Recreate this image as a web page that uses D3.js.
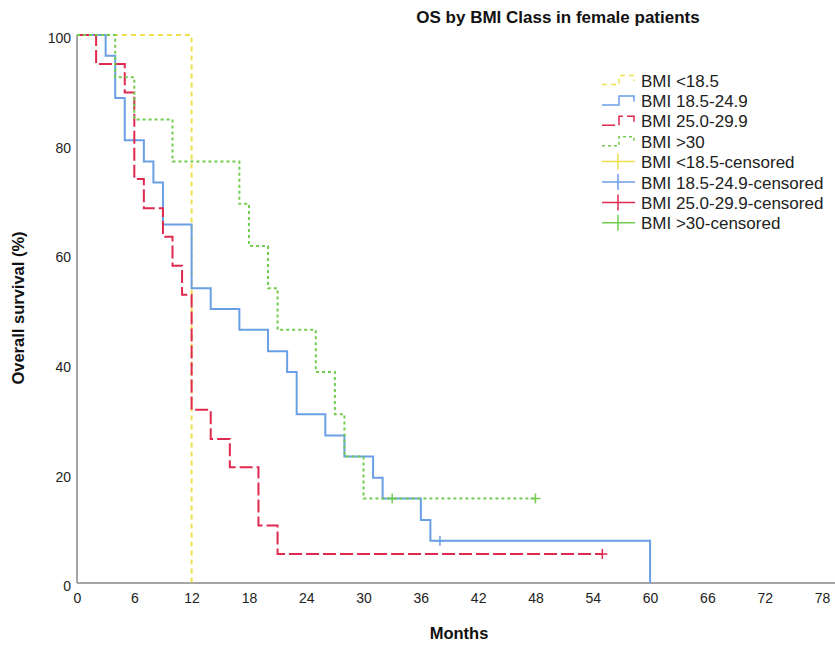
<!DOCTYPE html>
<html>
<head>
<meta charset="utf-8">
<script src="https://cdn.jsdelivr.net/npm/d3@7"></script>
<style>
  body { margin: 0; background: #fff; }
  text { font-family: "Liberation Sans", Arial, sans-serif; }
</style>
</head>
<body>
<div id="chart"></div>
<script>
// survival step data (months, % surviving)
const groupNames = ["BMI <18.5", "BMI 18.5-24.9", "BMI 25.0-29.9", "BMI >30"]
const underTimes = [0, 12]
const underSurv = [100, 0]
const underEnd = 12
const underCensor = []

const normalTimes = [0, 3, 4, 5, 7, 8, 9, 12, 14, 17, 20, 22, 23, 26, 28, 31, 32, 36, 37, 60]
const normalSurv = [100, 96.2, 88.5, 80.8, 76.9, 73.1, 65.4, 53.8, 50, 46.2, 42.3, 38.5, 30.8, 26.9, 23.1, 19.2, 15.4, 11.5, 7.7, 0]
const normalEnd = 60
const normalCensor = [38]

const overTimes = [0, 2, 5, 6, 7, 9, 10, 11, 12, 14, 16, 19, 21]
const overSurv = [100, 94.7, 89.5, 73.7, 68.4, 63.2, 57.9, 52.6, 31.6, 26.3, 21.1, 10.5, 5.3]
const overEnd = 55
const overCensor = [55]

const obeseTimes = [0, 4, 6, 10, 17, 18, 20, 21, 25, 27, 28, 30]
const obeseSurv = [100, 92.3, 84.6, 76.9, 69.2, 61.5, 53.8, 46.2, 38.5, 30.8, 23.1, 15.4]
const obeseEnd = 48
const obeseCensor = [33, 48]

const xTicks = [0, 6, 12, 18, 24, 30, 36, 42, 48, 54, 60, 66, 72, 78]
const yTicks = [0, 20, 40, 60, 80, 100]

const groups = [
  { name: groupNames[0], times: underTimes, surv: underSurv, end: underEnd, censor: underCensor, color: "#eee04c", dash: "5,4" },
  { name: groupNames[1], times: normalTimes, surv: normalSurv, end: normalEnd, censor: normalCensor, color: "#6a9fe6", dash: null },
  { name: groupNames[2], times: overTimes, surv: overSurv, end: overEnd, censor: overCensor, color: "#e0294f", dash: "13,4" },
  { name: groupNames[3], times: obeseTimes, surv: obeseSurv, end: obeseEnd, censor: obeseCensor, color: "#72cc50", dash: "3,3" }
]

const width = 835, height = 648
const svg = d3.select('#chart').append('svg')
  .attr('width', width)
  .attr('height', height)

const x = d3.scaleLinear().domain([0, 78]).range([77, 822])
const y = d3.scaleLinear().domain([0, 100]).range([583, 35])

// axes
const xAxis = svg.append('g')
  .attr('transform', `translate(0,${y(0)})`)
  .call(d3.axisBottom(x).tickValues(xTicks).tickSize(0).tickPadding(10))
xAxis.select('.domain').remove()
xAxis.selectAll('text').attr('font-size', 14).attr('fill', '#222')
  .attr('font-family', '"Liberation Sans", Arial, sans-serif')

const yAxis = svg.append('g')
  .attr('transform', `translate(${x(0)},0)`)
  .call(d3.axisLeft(y).tickValues(yTicks).tickSize(0).tickPadding(6))
yAxis.select('.domain').remove()
yAxis.selectAll('text').attr('font-size', 14).attr('fill', '#222')
  .attr('dy', '0.55em')
  .attr('font-family', '"Liberation Sans", Arial, sans-serif')

svg.append('line')
  .attr('x1', x(0)).attr('x2', width)
  .attr('y1', y(0)).attr('y2', y(0))
  .attr('stroke', '#888').attr('stroke-width', 1.5)
svg.append('line')
  .attr('x1', x(0)).attr('x2', x(0))
  .attr('y1', y(100)).attr('y2', y(0))
  .attr('stroke', '#888').attr('stroke-width', 1.5)

// step curves
const line = d3.line().x(d => x(d[0])).y(d => y(d[1])).curve(d3.curveStepAfter)

groups.forEach(g => {
  const pts = g.times.map((t, i) => [t, g.surv[i]])
  const last = pts[pts.length - 1]
  if (last[0] < g.end) pts.push([g.end, last[1]])
  const path = svg.append('path')
    .datum(pts)
    .attr('d', line)
    .attr('fill', 'none')
    .attr('stroke', g.color)
    .attr('stroke-width', 2)
  if (g.dash) path.attr('stroke-dasharray', g.dash)

  // censor marks (+)
  const survAt = t => {
    let s = 100
    g.times.forEach((tt, i) => { if (tt <= t) s = g.surv[i] })
    return s
  }
  svg.selectAll(null)
    .data(g.censor)
    .enter()
    .append('path')
    .attr('d', d => {
      const cx = x(d), cy = y(survAt(d))
      return `M${cx - 5},${cy}H${cx + 5}M${cx},${cy - 5}V${cy + 5}`
    })
    .attr('fill', 'none')
    .attr('stroke', g.color)
    .attr('stroke-width', 1.5)
})

// title and axis labels
svg.append('text')
  .attr('x', 558).attr('y', 23)
  .attr('text-anchor', 'middle')
  .attr('font-size', 17).attr('font-weight', 'bold').attr('fill', '#111')
  .text('OS by BMI Class in female patients')

svg.append('text')
  .attr('x', 459).attr('y', 639)
  .attr('text-anchor', 'middle')
  .attr('font-size', 16.5).attr('font-weight', 'bold').attr('fill', '#111')
  .text('Months')

svg.append('text')
  .attr('transform', 'translate(24,308) rotate(-90)')
  .attr('text-anchor', 'middle')
  .attr('font-size', 16.5).attr('font-weight', 'bold').attr('fill', '#111')
  .text('Overall survival (%)')

// legend
const legend = svg.append('g')
const rowY = i => 80 + i * 20.4

groups.forEach((g, i) => {
  const cy = rowY(i)
  const p = legend.append('path')
    .attr('d', `M602,${cy + 4.5}H619V${cy - 4.5}H634V${cy + 1}`)
    .attr('fill', 'none')
    .attr('stroke', g.color)
    .attr('stroke-width', 1.5)
  if (g.dash) p.attr('stroke-dasharray', g.dash)
  legend.append('text')
    .attr('x', 641).attr('y', cy + 6.5)
    .attr('font-size', 17).attr('fill', '#222')
    .text(g.name)
})

groups.forEach((g, i) => {
  const cy = rowY(i + 4)
  legend.append('line')
    .attr('x1', 602).attr('x2', 635).attr('y1', cy).attr('y2', cy)
    .attr('stroke', g.color).attr('stroke-width', 1.5)
  legend.append('line')
    .attr('x1', 618).attr('x2', 618).attr('y1', cy - 8).attr('y2', cy + 8)
    .attr('stroke', g.color).attr('stroke-width', 1.5)
  legend.append('text')
    .attr('x', 641).attr('y', cy + 6.5)
    .attr('font-size', 17).attr('fill', '#222')
    .text(g.name + '-censored')
})
</script>
</body>
</html>
